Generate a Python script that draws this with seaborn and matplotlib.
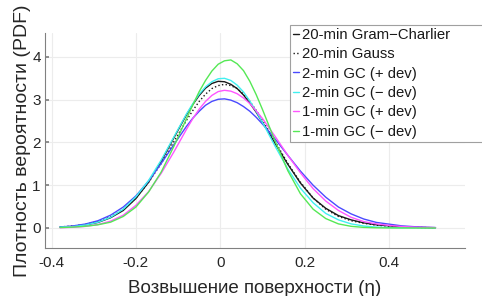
import matplotlib
matplotlib.use('Agg')
import matplotlib.pyplot as plt
import seaborn as sns

# surface elevation grid (eta), denser near the peak
eta = [-0.38, -0.35, -0.32, -0.29, -0.26, -0.23, -0.20, -0.17, -0.14, -0.11,
       -0.08, -0.065, -0.05, -0.035, -0.02, -0.005, 0.01, 0.025, 0.04, 0.055,
       0.07, 0.085, 0.10, 0.115, 0.13,
       0.16, 0.19, 0.22, 0.25, 0.28, 0.31, 0.34, 0.37, 0.40, 0.43, 0.46, 0.49, 0.51]

# PDF values
gc_20 = [0.02, 0.035, 0.07, 0.13, 0.24, 0.41, 0.69, 1.07, 1.56, 2.11,
         2.65, 2.89, 3.10, 3.27, 3.38, 3.43, 3.42, 3.36, 3.26, 3.11,
         2.92, 2.71, 2.47, 2.23, 1.97,
         1.49, 1.05, 0.70, 0.46, 0.29, 0.19, 0.12, 0.075, 0.05, 0.03, 0.018, 0.01, 0.007]
gauss_20 = [0.025, 0.045, 0.085, 0.15, 0.26, 0.43, 0.70, 1.07, 1.51, 2.02,
            2.52, 2.75, 2.96, 3.13, 3.26, 3.33, 3.36, 3.33, 3.26, 3.13,
            2.96, 2.75, 2.52, 2.27, 2.02,
            1.51, 1.07, 0.70, 0.44, 0.27, 0.17, 0.11, 0.065, 0.04, 0.025, 0.015, 0.008, 0.005]
gc2_plus = [0.023, 0.047, 0.092, 0.17, 0.30, 0.49, 0.75, 1.10, 1.51, 1.95,
            2.38, 2.57, 2.73, 2.87, 2.96, 3.01, 3.02, 2.99, 2.93, 2.84,
            2.73, 2.59, 2.43, 2.26, 2.08,
            1.70, 1.33, 1.00, 0.72, 0.49, 0.33, 0.21, 0.13, 0.09, 0.05, 0.03, 0.015, 0.01]
gc2_minus = [0.02, 0.031, 0.068, 0.135, 0.25, 0.44, 0.73, 1.11, 1.59, 2.13,
             2.67, 2.91, 3.13, 3.30, 3.42, 3.49, 3.50, 3.45, 3.34, 3.18,
             2.97, 2.73, 2.47, 2.19, 1.91,
             1.38, 0.93, 0.59, 0.34, 0.19, 0.096, 0.046, 0.02, 0.01, 0.005, 0.003, 0.002, 0.001]
gc1_plus = [0.006, 0.016, 0.037, 0.08, 0.16, 0.30, 0.53, 0.85, 1.28, 1.78,
            2.31, 2.56, 2.78, 2.96, 3.10, 3.19, 3.22, 3.20, 3.14, 3.04,
            2.91, 2.74, 2.56, 2.35, 2.14,
            1.70, 1.29, 0.92, 0.63, 0.41, 0.25, 0.15, 0.095, 0.06, 0.035, 0.02, 0.012, 0.008]
gc1_minus = [0.01, 0.02, 0.04, 0.075, 0.136, 0.27, 0.49, 0.84, 1.31, 1.91,
             2.56, 2.88, 3.19, 3.45, 3.67, 3.83, 3.91, 3.93, 3.84, 3.68,
             3.43, 3.12, 2.77, 2.40, 2.03,
             1.34, 0.80, 0.44, 0.22, 0.096, 0.039, 0.014, 0.005, 0.002, 0.001, 0.0, 0.0, 0.0]

labels = ['20-min Gram\u2212Charlier', '20-min Gauss', '2-min GC (+ dev)',
          '2-min GC (\u2212 dev)', '1-min GC (+ dev)', '1-min GC (\u2212 dev)']
series = [gc_20, gauss_20, gc2_plus, gc2_minus, gc1_plus, gc1_minus]
colors = ['#1a1a1a', '#1a1a1a', '#4a4aff', '#40f0f0', '#ff55ff', '#55e855']
styles = ['-', ':', '-', '-', '-', '-']

sns.set_theme(style='whitegrid')
plt.rcParams['font.family'] = ['Liberation Sans', 'DejaVu Sans']

fig = plt.figure(figsize=(4.82, 2.96), dpi=100)
ax = fig.add_axes([45 / 482, 1 - 248 / 296, 420 / 482, 215 / 296])

for vals, lab, col, ls in zip(series, labels, colors, styles):
    sns.lineplot(x=eta, y=vals, ax=ax, color=col, linestyle=ls,
                 linewidth=1.0, label=lab)

ax.set_xlim(-0.4155, 0.58)
ax.set_ylim(-0.468, 4.56)
ax.set_xticks([-0.4, -0.2, 0, 0.2, 0.4])
ax.set_xticklabels(['-0.4', '-0.2', '0', '0.2', '0.4'])
ax.set_yticks([0, 1, 2, 3, 4])

ax.set_facecolor('white')
ax.grid(True, color='#ececec', linewidth=0.8)
for side in ['top', 'right']:
    ax.spines[side].set_visible(False)
for side in ['left', 'bottom']:
    ax.spines[side].set_color('#808080')
    ax.spines[side].set_linewidth(0.8)

ax.tick_params(axis='both', direction='in', length=3, color='#808080',
               labelsize=11, labelcolor='#262626')
ax.tick_params(axis='x', pad=6)
ax.tick_params(axis='y', pad=3, left=True)

ax.set_xlabel('Возвышение поверхности (\u03b7)', fontsize=13.5, color='#262626')
ax.xaxis.set_label_coords(0.5, -0.148)
ax.set_ylabel('Плотность вероятности (PDF)', fontsize=14, color='#262626')
ax.yaxis.set_label_coords(-0.033, 0.5)

ax.legend_.remove()
handles, labs = ax.get_legend_handles_labels()
leg = fig.legend(handles, labs, loc='upper left',
                 bbox_to_anchor=(290 / 482, 0.3, 1.0, 1 - 25 / 296 - 0.3),
                 bbox_transform=fig.transFigure, mode='expand',
                 borderaxespad=0, fontsize=10.7, handlelength=0.4,
                 handletextpad=0.2, labelspacing=0.36, borderpad=0.2,
                 fancybox=False, framealpha=1)
leg.get_frame().set_edgecolor('#a0a0a0')
leg.get_frame().set_linewidth(0.8)
for t in leg.get_texts():
    t.set_color('#1a1a1a')

fig.savefig('out.png', dpi=100)
